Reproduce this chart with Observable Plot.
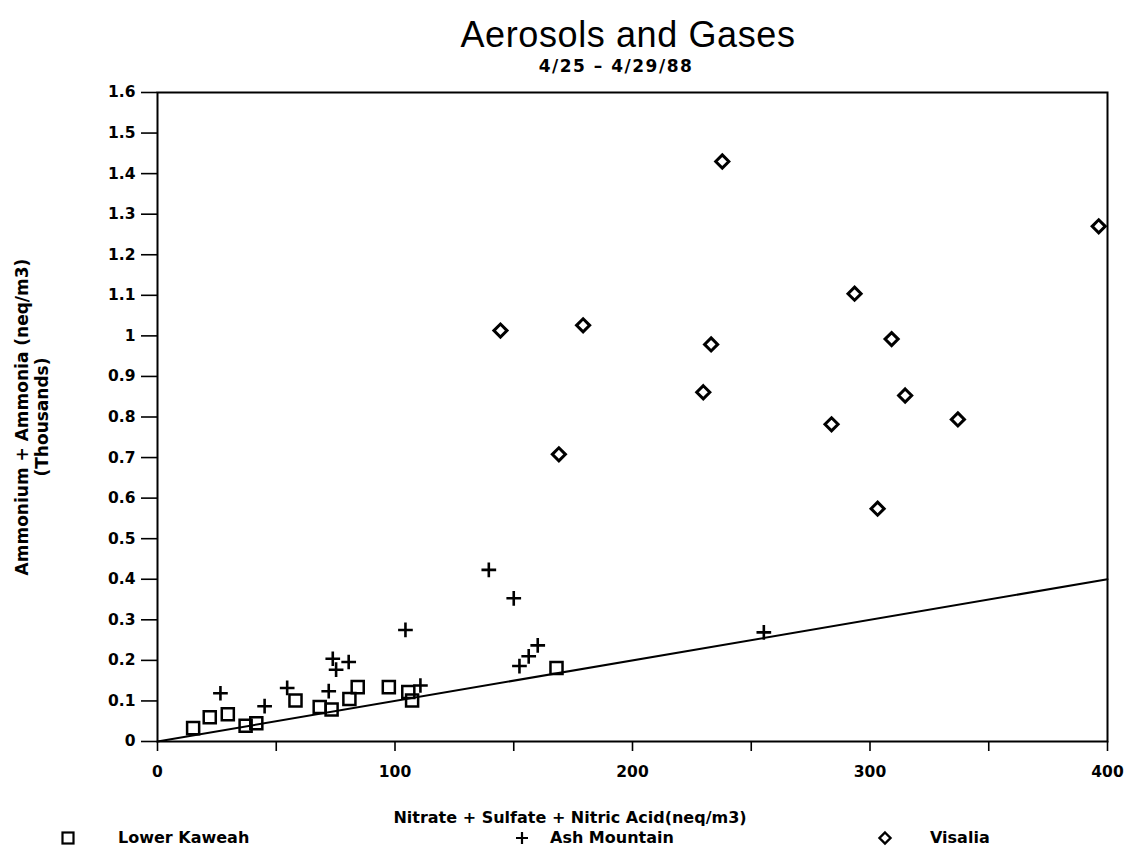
<!DOCTYPE html>
<html>
<head>
<meta charset="utf-8">
<script src="https://cdn.jsdelivr.net/npm/d3@7"></script>
<script src="https://cdn.jsdelivr.net/npm/@observablehq/plot@0.6"></script>
<style>
  html, body { margin: 0; padding: 0; background: #fff; }
  #wrap { position: relative; width: 1127px; height: 852px; font-family: "DejaVu Sans", sans-serif; color: #000; }
  #wrap svg.chart { position: absolute; left: 0; top: 0; }
  .title { position: absolute; left: 628px; top: 17px; transform: translateX(-50%); font-family: "Liberation Sans", sans-serif; font-size: 36px; line-height: 36px; letter-spacing: 0.6px; white-space: nowrap; }
  .subtitle { position: absolute; left: 616px; top: 58px; transform: translateX(-50%); font-size: 17px; font-weight: bold; line-height: 17px; letter-spacing: 1.5px; white-space: nowrap; }
  .xlabel { position: absolute; left: 570px; top: 810px; transform: translateX(-50%); font-size: 16px; font-weight: bold; line-height: 16px; white-space: nowrap; }
  .leg { position: absolute; top: 830px; font-size: 16px; font-weight: bold; line-height: 16px; white-space: nowrap; }
  .legsym { position: absolute; top: 830px; }
</style>
</head>
<body>
<div id="wrap">
  <div class="title">Aerosols and Gases</div>
  <div class="subtitle">4/25 – 4/29/88</div>
  <div class="xlabel">Nitrate + Sulfate + Nitric Acid(neq/m3)</div>
  <svg class="legsym" style="left:60px" width="16" height="16"><rect x="2.5" y="2.5" width="11" height="11" fill="none" stroke="#000" stroke-width="2.2"/></svg>
  <div class="leg" style="left:118px">Lower Kaweah</div>
  <svg class="legsym" style="left:514px" width="16" height="16"><path d="M8,2V14M2,8H14" stroke="#000" stroke-width="2.2"/></svg>
  <div class="leg" style="left:550px">Ash Mountain</div>
  <svg class="legsym" style="left:877px" width="16" height="16"><path d="M8,2.5L13.5,8L8,13.5L2.5,8Z" fill="none" stroke="#000" stroke-width="2.4"/></svg>
  <div class="leg" style="left:930px">Visalia</div>
</div>
<script>
// Lower Kaweah: x = nitrate + sulfate + nitric acid (neq/m3), y = ammonium + ammonia (thousands neq/m3)
const lowerX = [15.0, 22.0, 29.6, 37.1, 41.6, 58.1, 68.3, 73.3, 80.8, 84.3, 97.4, 105.6, 107.2, 168.0];
const lowerY = [0.033, 0.060, 0.067, 0.039, 0.045, 0.101, 0.085, 0.079, 0.105, 0.134, 0.134, 0.122, 0.101, 0.181];

// Ash Mountain
const ashX = [26.5, 45.1, 54.6, 72.1, 73.8, 75.2, 80.5, 104.4, 110.7, 139.5, 150.0, 152.4, 156.3, 160.1, 255.3];
const ashY = [0.119, 0.087, 0.132, 0.124, 0.204, 0.177, 0.196, 0.275, 0.138, 0.423, 0.353, 0.186, 0.210, 0.237, 0.269];

// Visalia
const visX = [237.8, 144.4, 179.2, 233.1, 229.8, 169.0, 396.3, 293.5, 309.1, 314.8, 283.8, 337.0, 303.2];
const visY = [1.430, 1.013, 1.026, 0.979, 0.861, 0.708, 1.270, 1.104, 0.992, 0.853, 0.782, 0.794, 0.574];

// 1:1 reference line (y in thousands)
const refX = [0, 400];
const refY = [0, 0.4];

// Axis ticks
const xTicks = [0, 50, 100, 150, 200, 250, 300, 350, 400];
const xTickLabels = ["0", "", "100", "", "200", "", "300", "", "400"];
const yTicks = [0, 0.1, 0.2, 0.3, 0.4, 0.5, 0.6, 0.7, 0.8, 0.9, 1, 1.1, 1.2, 1.3, 1.4, 1.5, 1.6];
const yTickLabels = ["0", "0.1", "0.2", "0.3", "0.4", "0.5", "0.6", "0.7", "0.8", "0.9", "1", "1.1", "1.2", "1.3", "1.4", "1.5", "1.6"];

const yLabel = "Ammonium + Ammonia (neq/m3)\n(Thousands)";

const pts = (xs, ys) => xs.map((x, i) => ({x, y: ys[i]}));
const lower = pts(lowerX, lowerY);
const ash = pts(ashX, ashY);
const vis = pts(visX, visY);
const ref = pts(refX, refY);

const chart = Plot.plot({
  width: 1127,
  height: 852,
  marginLeft: 157,
  marginRight: 20,
  marginTop: 92,
  marginBottom: 111,
  x: {domain: [0, 400]},
  y: {domain: [0, 1.6]},
  style: {fontFamily: "DejaVu Sans, sans-serif", fontWeight: "bold", fontSize: "15.5px", color: "#000", background: "transparent"},
  marks: [
    Plot.frame({stroke: "#000", strokeWidth: 2}),
    Plot.axisX({ticks: xTicks, tickSize: 10, tickPadding: 14, strokeWidth: 1.6,
      tickFormat: d => xTickLabels[xTicks.indexOf(d)], label: null}),
    Plot.axisY({ticks: yTicks, tickSize: 16, tickPadding: 6, strokeWidth: 1.6,
      tickFormat: d => yTickLabels[yTicks.findIndex(t => Math.abs(t - d) < 1e-9)], label: null}),
    Plot.line(ref, {x: "x", y: "y", stroke: "#000", strokeWidth: 2}),
    Plot.dot(lower, {x: "x", y: "y", symbol: "square", r: 6.8, stroke: "#000", strokeWidth: 2.5, fill: "none"}),
    Plot.dot(ash, {x: "x", y: "y", symbol: "plus", r: 4.8, stroke: "#000", strokeWidth: 2.6}),
    Plot.dot(vis, {x: "x", y: "y", symbol: "diamond2", r: 5.9, stroke: "#000", strokeWidth: 3, fill: "none"}),
    Plot.text([yLabel], {frameAnchor: "left", dx: -126, rotate: -90, textAnchor: "middle", lineHeight: 1.15, fontSize: 17, fontWeight: "bold"})
  ]
});
chart.classList.add("chart");
document.getElementById("wrap").prepend(chart);
</script>
</body>
</html>
